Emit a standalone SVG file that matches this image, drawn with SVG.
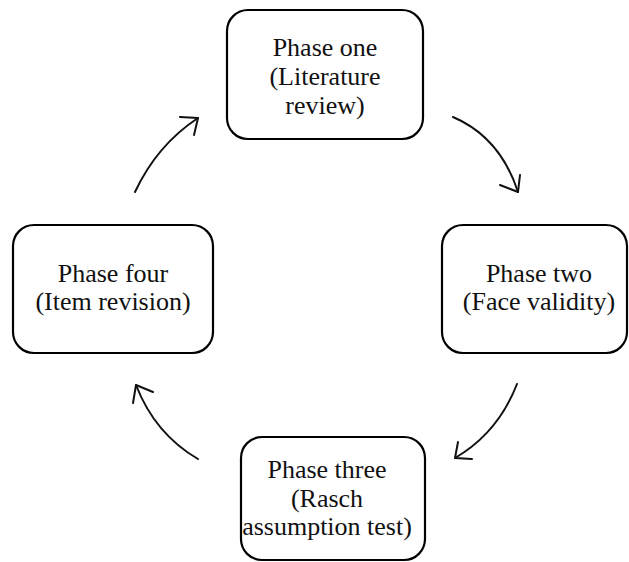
<svg xmlns="http://www.w3.org/2000/svg" width="629" height="562" viewBox="0 0 629 562">
<style>
.box{fill:#fff;stroke:#000;stroke-width:2.2}
.t{font-family:"Liberation Serif","Times New Roman",serif;font-size:26px;fill:#111;text-anchor:middle}
.c{fill:none;stroke:#111;stroke-width:2;stroke-linecap:round;stroke-linejoin:round}
</style>
<rect width="629" height="562" fill="#fff"/>
<g id="phase-one">
<rect class="box" x="227" y="10" width="196" height="129" rx="21"/>
<text class="t" x="325" y="56">Phase one</text>
<text class="t" x="325" y="85">(Literature</text>
<text class="t" x="325" y="114">review)</text>
</g>
<g id="phase-two">
<rect class="box" x="442" y="225" width="185" height="128" rx="21"/>
<text class="t" x="539" y="282">Phase two</text>
<text class="t" x="539" y="310">(Face validity)</text>
</g>
<g id="phase-three">
<rect class="box" x="241" y="437" width="184" height="123" rx="21"/>
<text class="t" x="327" y="478">Phase three</text>
<text class="t" x="327" y="507">(Rasch</text>
<text class="t" x="327" y="535">assumption test)</text>
</g>
<g id="phase-four">
<rect class="box" x="13" y="225" width="200" height="128" rx="21"/>
<text class="t" x="113" y="282">Phase four</text>
<text class="t" x="113" y="310">(Item revision)</text>
</g>
<g id="connectors">
<path class="c" d="M453,117 Q500,137 518,192"/>
<polyline class="c" points="500,185 518,192 520,175"/>
<path class="c" d="M517,384 Q498,433 455,458"/>
<polyline class="c" points="458,442 455,458 472,459"/>
<path class="c" d="M198,459 Q155,434 136,385"/>
<polyline class="c" points="133,403 136,385 153,392"/>
<path class="c" d="M135,192 Q157,145 198,118"/>
<polyline class="c" points="180,117 198,118 194,135"/>
</g>
</svg>
